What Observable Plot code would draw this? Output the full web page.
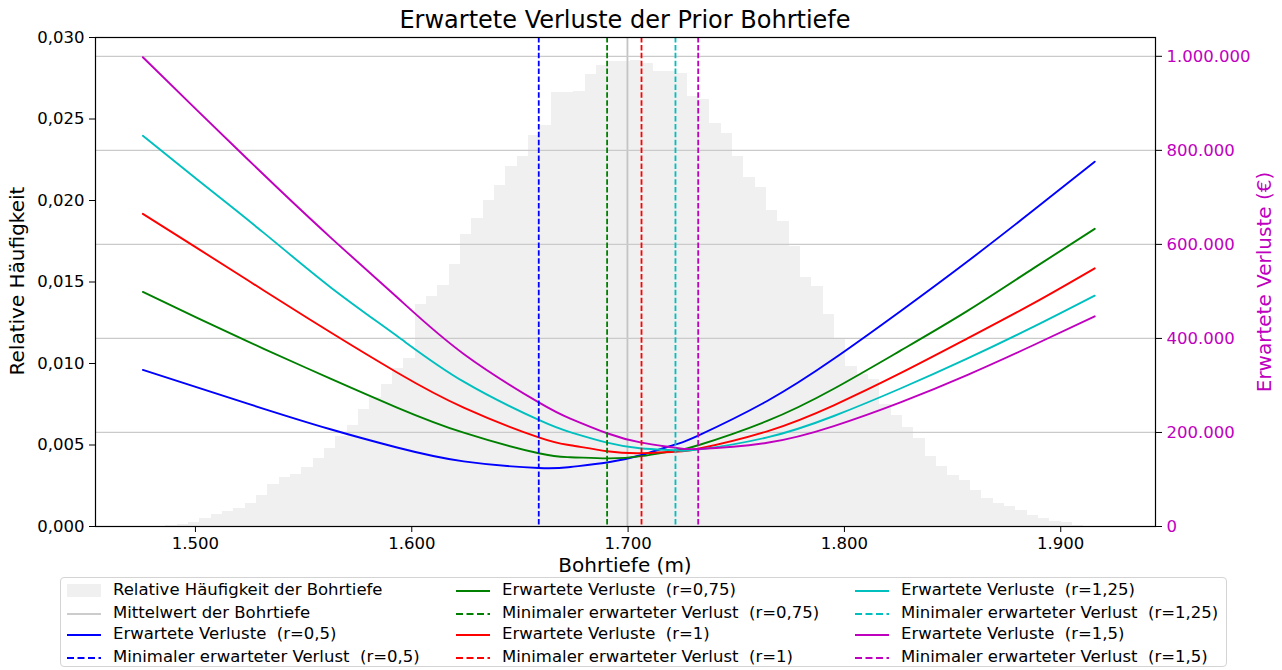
<!DOCTYPE html>
<html>
<head>
<meta charset="utf-8">
<script src="https://cdn.jsdelivr.net/npm/d3@7"></script>
<script src="https://cdn.jsdelivr.net/npm/@observablehq/plot@0.6"></script>
<style>
  html, body { margin: 0; padding: 0; background: #fff; }
  #wrap { position: relative; width: 1282px; height: 670px; font-family: "DejaVu Sans", sans-serif; color: #000; overflow: hidden; }
  .abs { position: absolute; white-space: pre; }
  #legend { position: absolute; left: 60px; top: 577px; width: 1167px; height: 90px; border: 1px solid #d4d4d4; border-radius: 4px; box-sizing: border-box; }
  .lg { position: absolute; font-size: 16.5px; line-height: 20px; white-space: pre; }
</style>
</head>
<body>
<div id="wrap">
  <div id="chart" class="abs" style="left:0;top:0"></div>
  <div class="abs" style="left:95px;top:6px;width:1060px;text-align:center;font-size:24px;line-height:28px">Erwartete Verluste der Prior Bohrtiefe</div>
  <div class="abs" style="left:95px;top:553px;width:1060px;text-align:center;font-size:20px;line-height:24px">Bohrtiefe (m)</div>
  <div class="abs" style="left:-133px;top:269px;width:300px;text-align:center;font-size:20px;line-height:24px;transform:rotate(-90deg)">Relative Häufigkeit</div>
  <div class="abs" style="left:1114px;top:270px;width:300px;text-align:center;font-size:20px;line-height:24px;color:#bf00bf;transform:rotate(-90deg)">Erwartete Verluste (€)</div>
  <div id="legend"></div>
</div>
<script>
// ---------- data ----------
// histogram of the prior drilling depth (m): first bin edge, bin width, relative frequency per bin
const histStart = 1475.8;
const histBin = 5.24;
const relFreq = [
  0.00001, 0.00003, 0.00008, 0.00015, 0.00025, 0.0005, 0.00075, 0.00095, 0.0011, 0.0014,
  0.0019, 0.0026, 0.0030, 0.0032, 0.0036, 0.0042, 0.0048, 0.0055, 0.0062, 0.0072,
  0.0079, 0.0087, 0.0097, 0.0103, 0.0136, 0.0141, 0.0148, 0.0161, 0.0179, 0.0189,
  0.0200, 0.0209, 0.0221, 0.0227, 0.0240, 0.0246, 0.0266, 0.0266, 0.0267, 0.0277,
  0.0283, 0.0285, 0.0285, 0.0286, 0.0284, 0.0279, 0.0279, 0.0278, 0.0264, 0.0262,
  0.0247, 0.0241, 0.0227, 0.0214, 0.0208, 0.0194, 0.0187, 0.0172, 0.0153, 0.0147,
  0.0130, 0.0115, 0.0098, 0.0093, 0.0090, 0.0075, 0.0068, 0.0061, 0.0054, 0.0043,
  0.0037, 0.0031, 0.0028, 0.0022, 0.0017, 0.0014, 0.0012, 0.0010, 0.0007, 0.0005,
  0.0003, 0.00025, 0.00006, 0.00002, 0.00001
];
const meanDepth = 1699.7;

// expected losses (EUR) at decision depths (m)
const depths = [1475.7, 1500.8, 1531.6, 1562.4, 1593.2, 1624.0, 1658.7, 1673.3, 1690.3, 1706.2, 1721.9, 1732.4, 1764.3, 1795.1, 1825.9, 1856.7, 1887.5, 1915.7];
const lossR050 = [333000, 295700, 250300, 206800, 168000, 138500, 124400, 126600, 136000, 152000, 174600, 193400, 267000, 356600, 457800, 563000, 673000, 776000];
const lossR075 = [499000, 443500, 378000, 314500, 253000, 199500, 155700, 147400, 144800, 149600, 161300, 172800, 224600, 293000, 374000, 458000, 549500, 633000];
const lossR100 = [665000, 592000, 502000, 413000, 327500, 252800, 189500, 172800, 160100, 156000, 159100, 165300, 202500, 257800, 326000, 399500, 475000, 549000];
const lossR125 = [831000, 737800, 624500, 509000, 405000, 308000, 226600, 200600, 178400, 166000, 162200, 163500, 189500, 235000, 293500, 357000, 425000, 491000];
const lossR150 = [998000, 885000, 748000, 615000, 487500, 367000, 264000, 229500, 198300, 178300, 167400, 164900, 178000, 213500, 264000, 322000, 386000, 447000];

// depth of minimal expected loss per r
const ratios = ["0,5", "0,75", "1", "1,25", "1,5"];
const optimalDepth = [1658.7, 1690.3, 1706.2, 1721.9, 1732.4];
const seriesColors = ["#0000ff", "#008000", "#ff0000", "#00bfbf", "#bf00bf"];

// tick values
const xTicks = [1500, 1600, 1700, 1800, 1900];
const leftTicks = [0, 0.005, 0.01, 0.015, 0.02, 0.025, 0.03];
const rightTicks = [0, 200000, 400000, 600000, 800000, 1000000];

// ---------- derived tables ----------
const lossMax = 1040000;           // top of the right axis
const leftMax = 0.03;              // top of the left axis
const K = leftMax / lossMax;       // loss -> shared y scale
const hist = relFreq.map((f, i) => ({x0: histStart + i * histBin, x1: histStart + (i + 1) * histBin, f}));
const lossSeries = [lossR050, lossR075, lossR100, lossR125, lossR150];
const lines = lossSeries.flatMap((arr, s) => arr.map((v, i) => ({x: depths[i], v, s})));
const optima = optimalDepth.map((x, s) => ({x, s}));

const thousands = n => String(Math.round(n)).replace(/\B(?=(\d{3})+(?!\d))/g, ".");
const MAG = "#bf00bf";

const chart = Plot.plot({
  width: 1282,
  height: 575,
  marginLeft: 95,
  marginRight: 127,
  marginTop: 37,
  marginBottom: 49,
  style: {fontFamily: "DejaVu Sans", fontSize: "16.5px", background: "transparent", color: "#000"},
  x: {domain: [1453.8, 1943.8]},
  y: {domain: [0, leftMax]},
  marks: [
    Plot.rectY(hist, {x1: "x0", x2: "x1", y: "f", fill: "#f0f0f0", shapeRendering: "crispEdges"}),
    Plot.ruleX([meanDepth], {stroke: "#c4c4c4", strokeWidth: 1.8}),
    Plot.ruleY(rightTicks.slice(1), {y: d => d * K, stroke: "#cacaca", strokeWidth: 1.3}),
    Plot.line(lines, {x: "x", y: d => d.v * K, z: "s", stroke: d => seriesColors[d.s], strokeWidth: 1.9, curve: "natural"}),
    Plot.ruleX(optima, {x: "x", stroke: d => seriesColors[d.s], strokeWidth: 1.8, strokeDasharray: "5.5,2.4"}),
    Plot.frame({stroke: "#000", strokeWidth: 1.2}),
    Plot.axisX({ticks: xTicks, tickFormat: thousands, tickSize: 6, tickPadding: 5, label: null, fontSize: 16.5}),
    Plot.axisY({ticks: leftTicks, tickFormat: d => d.toFixed(3).replace(".", ","), anchor: "left", tickSize: 6, tickPadding: 5, label: null, fontSize: 16.5}),
    Plot.axisY(rightTicks.map(v => v * K), {anchor: "right", tickFormat: y => thousands(Math.round(y / K / 1000) * 1000), tickSize: 6, tickPadding: 5, label: null, fill: MAG, fontSize: 16.5})
  ]
});
document.getElementById("chart").appendChild(chart);

// ---------- legend ----------
const legendItems = [
  {kind: "patch", color: "#f0f0f0", label: "Relative Häufigkeit der Bohrtiefe"},
  {kind: "line", color: "#cccccc", label: "Mittelwert der Bohrtiefe"}
];
ratios.forEach((r, i) => {
  legendItems.push({kind: "line", color: seriesColors[i], label: `Erwartete Verluste  (r=${r})`});
  legendItems.push({kind: "dash", color: seriesColors[i], label: `Minimaler erwarteter Verlust  (r=${r})`});
});
const colHandle = [6, 395, 794];   // relative to legend box
const rowCenter = [13, 35.5, 57, 80];
const lg = document.getElementById("legend");
legendItems.forEach((it, i) => {
  const col = Math.floor(i / 4), row = i % 4;
  const hx = colHandle[col], cy = rowCenter[row];
  const svgNS = "http://www.w3.org/2000/svg";
  const svg = document.createElementNS(svgNS, "svg");
  svg.setAttribute("width", 36); svg.setAttribute("height", 16);
  svg.style.position = "absolute"; svg.style.left = hx + "px"; svg.style.top = (cy - 8) + "px";
  if (it.kind === "patch") {
    const r = document.createElementNS(svgNS, "rect");
    r.setAttribute("x", 0); r.setAttribute("y", 1); r.setAttribute("width", 34); r.setAttribute("height", 13);
    r.setAttribute("fill", it.color); svg.appendChild(r);
  } else {
    const l = document.createElementNS(svgNS, "line");
    l.setAttribute("x1", 0); l.setAttribute("x2", 34); l.setAttribute("y1", 8); l.setAttribute("y2", 8);
    l.setAttribute("stroke", it.color); l.setAttribute("stroke-width", 2);
    if (it.kind === "dash") l.setAttribute("stroke-dasharray", "7,3.5");
    svg.appendChild(l);
  }
  lg.appendChild(svg);
  const t = document.createElement("div");
  t.className = "lg";
  t.textContent = it.label;
  t.style.left = (hx + 46) + "px";
  t.style.top = (cy - 11) + "px";
  lg.appendChild(t);
});
</script>
</body>
</html>
